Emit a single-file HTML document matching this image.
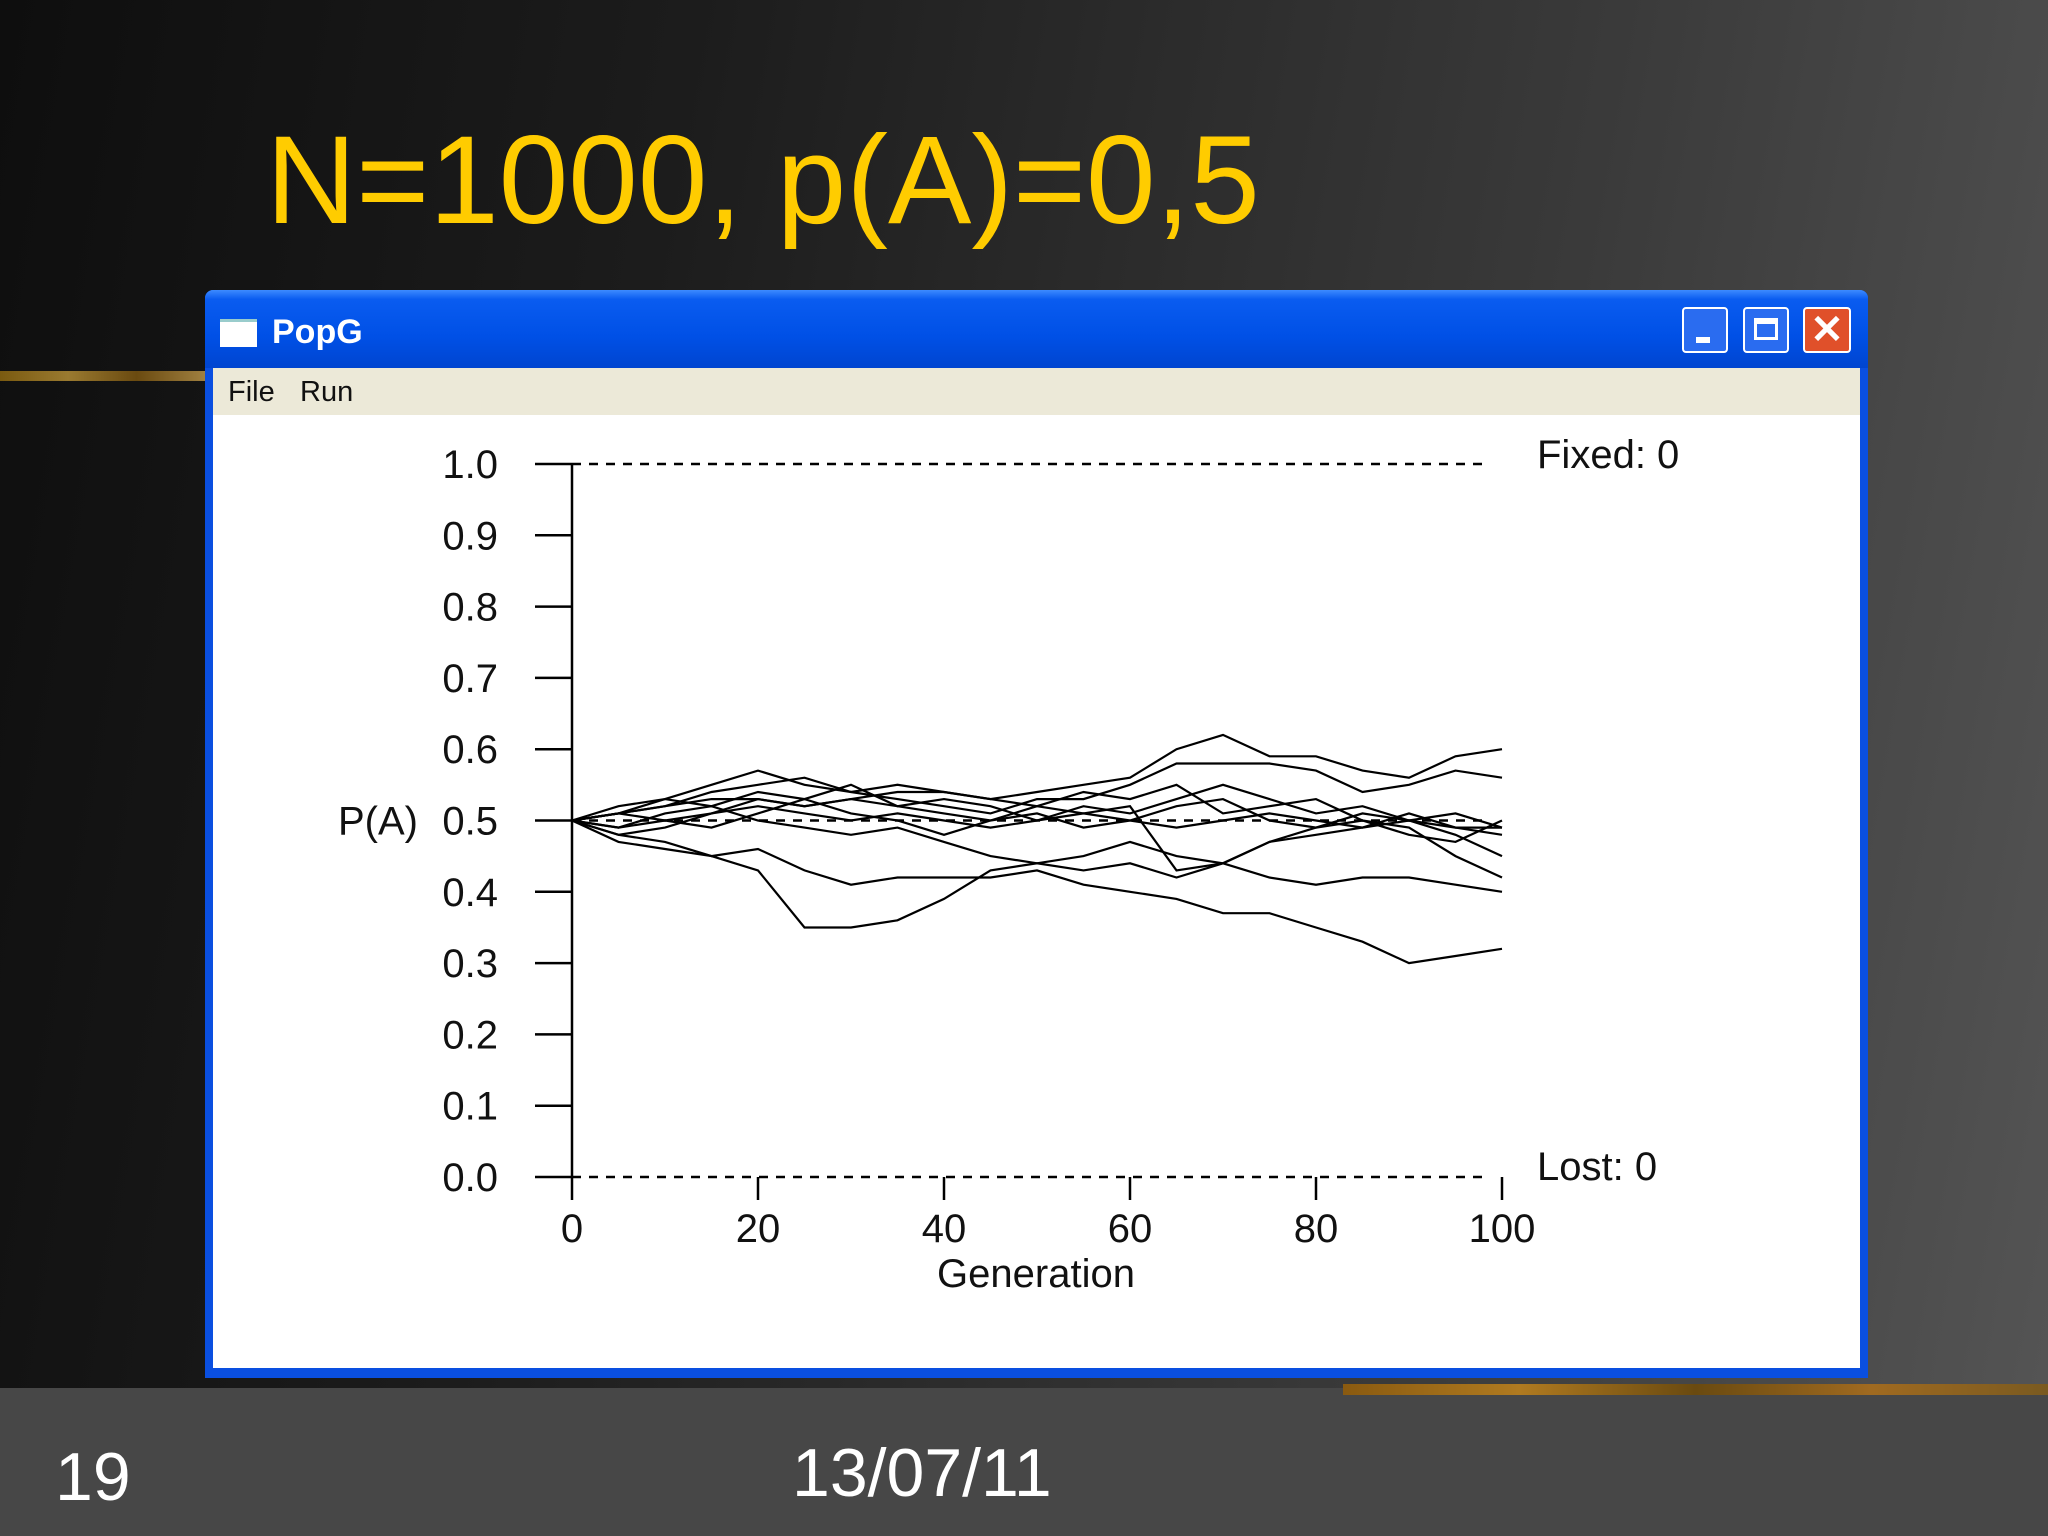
<!DOCTYPE html>
<html><head><meta charset="utf-8"><style>
html,body{margin:0;padding:0;}
body{width:2048px;height:1536px;position:relative;overflow:hidden;font-family:"Liberation Sans",sans-serif;
background:linear-gradient(100deg,#0e0e0e 0%,#1c1c1c 30%,#3a3a3a 70%,#555 100%);}
.abs{position:absolute;}
</style></head><body>
<div class="abs" style="left:0;top:1388px;width:2048px;height:148px;background:#474747"></div>
<div class="abs" style="left:0;top:371px;width:205px;height:10px;background:linear-gradient(90deg,#7a5a10,#9a7a30,#6a4a10,#a08040)"></div>
<div class="abs" style="left:1343px;top:1384px;width:705px;height:11px;background:linear-gradient(90deg,#8a5a10,#b07a20,#6a4a10,#a06a20,#7a5a20)"></div>
<div class="abs" style="left:266px;top:106px;font-size:125px;color:#ffcc00;line-height:150px;white-space:nowrap">N=1000, p(A)=0,5</div>
<div class="abs" style="left:55px;top:1437px;font-size:68px;color:#fff;line-height:80px">19</div>
<div class="abs" style="left:792px;top:1433px;font-size:68px;color:#fff;line-height:80px">13/07/11</div>

<div class="abs" style="left:205px;top:290px;width:1663px;height:1088px;background:#0a4fe0;border-radius:8px 8px 0 0">
 <div class="abs" style="left:0;top:0;width:1663px;height:78px;border-radius:8px 8px 0 0;background:linear-gradient(180deg,#3d8bff 0%,#0a5cf0 12%,#0050e6 60%,#0045d0 100%)"></div>
 <div class="abs" style="left:15px;top:29px;width:37px;height:25px;background:#fff;border-top:3px solid #9cc"></div>
 <div class="abs" style="left:67px;top:22px;font-size:34px;color:#fff;font-weight:bold;line-height:40px">PopG</div>
 <div class="abs" style="left:1477px;top:17px;width:46px;height:46px;background:#2a6cf0;border:2px solid #fff;border-radius:4px;box-sizing:border-box"><div style="position:absolute;left:12px;top:28px;width:14px;height:6px;background:#fff"></div></div>
 <div class="abs" style="left:1538px;top:17px;width:46px;height:46px;background:#2a6cf0;border:2px solid #fff;border-radius:4px;box-sizing:border-box"><div style="position:absolute;left:9px;top:9px;width:24px;height:22px;border:3px solid #fff;border-top-width:6px;box-sizing:border-box"></div></div>
 <div class="abs" style="left:1598px;top:17px;width:48px;height:46px;background:#e0502a;border:2px solid #fff;border-radius:4px;box-sizing:border-box;color:#fff;font-size:40px;line-height:42px;text-align:center;font-weight:bold">✕</div>
 <div class="abs" style="left:8px;top:78px;width:1647px;height:47px;background:#ece9d8"></div>
 <div class="abs" style="left:23px;top:84px;font-size:29px;line-height:36px;color:#111">File</div>
 <div class="abs" style="left:95px;top:84px;font-size:29px;line-height:36px;color:#111">Run</div>
 <div class="abs" style="left:8px;top:125px;width:1647px;height:953px;background:#fff"></div>
</div>

<svg class="abs" style="left:0;top:0" width="2048" height="1536" font-family="Liberation Sans, sans-serif">
<g id="axes"></g><g id="lines"></g>
</svg>
<script>
const gens=[0,5,10,15,20,25,30,35,40,45,50,55,60,65,70,75,80,85,90,95,100];
const yTicks=[0,0.1,0.2,0.3,0.4,0.5,0.6,0.7,0.8,0.9,1.0];
const yTickLabels=["0.0","0.1","0.2","0.3","0.4","0.5","0.6","0.7","0.8","0.9","1.0"];
const xTicks=[0,20,40,60,80,100];
const run1=[0.50,0.48,0.47,0.45,0.46,0.43,0.41,0.42,0.42,0.42,0.43,0.41,0.40,0.39,0.37,0.37,0.35,0.33,0.30,0.31,0.32];
const run2=[0.50,0.47,0.46,0.45,0.43,0.35,0.35,0.36,0.39,0.43,0.44,0.43,0.44,0.42,0.44,0.42,0.41,0.42,0.42,0.41,0.40];
const run3=[0.50,0.51,0.52,0.53,0.53,0.52,0.53,0.54,0.54,0.53,0.54,0.55,0.56,0.60,0.62,0.59,0.59,0.57,0.56,0.59,0.60];
const run4=[0.50,0.52,0.53,0.55,0.57,0.55,0.54,0.53,0.52,0.51,0.53,0.53,0.55,0.58,0.58,0.58,0.57,0.54,0.55,0.57,0.56];
const run5=[0.50,0.49,0.51,0.52,0.50,0.49,0.48,0.49,0.47,0.45,0.44,0.45,0.47,0.45,0.44,0.47,0.48,0.49,0.51,0.49,0.48];
const run6=[0.50,0.51,0.50,0.51,0.52,0.51,0.50,0.51,0.50,0.49,0.50,0.51,0.50,0.49,0.50,0.51,0.50,0.49,0.50,0.49,0.49];
const run7=[0.50,0.51,0.52,0.54,0.55,0.56,0.54,0.55,0.54,0.53,0.52,0.51,0.52,0.43,0.44,0.47,0.49,0.51,0.50,0.48,0.45];
const run8=[0.50,0.48,0.49,0.51,0.53,0.52,0.53,0.52,0.51,0.50,0.52,0.54,0.53,0.55,0.51,0.52,0.53,0.50,0.49,0.45,0.42];
const run9=[0.50,0.49,0.50,0.49,0.51,0.53,0.51,0.50,0.48,0.50,0.51,0.49,0.50,0.52,0.53,0.50,0.49,0.50,0.48,0.47,0.50];
const run10=[0.50,0.51,0.53,0.52,0.54,0.53,0.55,0.52,0.53,0.52,0.50,0.52,0.51,0.53,0.55,0.53,0.51,0.52,0.50,0.51,0.49];
const runs=[run1,run2,run3,run4,run5,run6,run7,run8,run9,run10];
const fixedCount=0, lostCount=0;

const NS="http://www.w3.org/2000/svg";
const X=g=>572+g*(1502-572)/100;
const Y=p=>1177-p*(1177-464);
function mk(tag,attrs,parent){const e=document.createElementNS(NS,tag);for(const k in attrs)e.setAttribute(k,attrs[k]);parent.appendChild(e);return e;}
const ax=document.getElementById('axes'), ln=document.getElementById('lines');
let e=mk('line',{x1:X(0),x2:X(0),y1:Y(1),y2:Y(0),stroke:'#000','stroke-width':2.5},ax);


yTicks.forEach((v,i)=>{
  let t=mk('line',{x1:X(0)-37,x2:X(0),y1:Y(v),y2:Y(v),stroke:'#000','stroke-width':2.5},ax);
  
  
  let l=mk('text',{x:498,y:Y(v)+14,'text-anchor':'end','font-size':40,fill:'#111'},ax);
  l.textContent=yTickLabels[i];
  
  
});
[0,0.5,1].forEach(v=>{
  let d=mk('line',{x1:X(0),x2:1489,y1:Y(v),y2:Y(v),stroke:'#000','stroke-width':2.5,'stroke-dasharray':'9 8'},ax);
  
  
});
xTicks.forEach(v=>{
  let t=mk('line',{x1:X(v),x2:X(v),y1:Y(0),y2:Y(0)+23,stroke:'#000','stroke-width':2.5},ax);
  
  
  let l=mk('text',{x:X(v),y:1242,'text-anchor':'middle','font-size':40,fill:'#111'},ax);
  l.textContent=String(v);
  
  
});
let yt=mk('text',{x:338,y:Y(0.5)+14,'font-size':40,fill:'#111'},ax);yt.textContent='P(A)';


let xt=mk('text',{x:1036,y:1287,'text-anchor':'middle','font-size':40,fill:'#111'},ax);xt.textContent='Generation';


let fx=mk('text',{x:1537,y:468,'font-size':40,fill:'#111'},ax);fx.textContent='Fixed:  '+fixedCount;fx.setAttribute('xml:space','preserve');


let lo=mk('text',{x:1537,y:1180,'font-size':40,fill:'#111'},ax);lo.textContent='Lost:  '+lostCount;lo.setAttribute('xml:space','preserve');


runs.forEach((r,i)=>{
  const pts=r.map((p,j)=>X(gens[j]).toFixed(1)+','+Y(p).toFixed(1)).join(' ');
  let pl=mk('polyline',{points:pts,fill:'none',stroke:'#000','stroke-width':2.2,'stroke-linejoin':'miter'},ln);
  
  
});
</script>
</body></html>
